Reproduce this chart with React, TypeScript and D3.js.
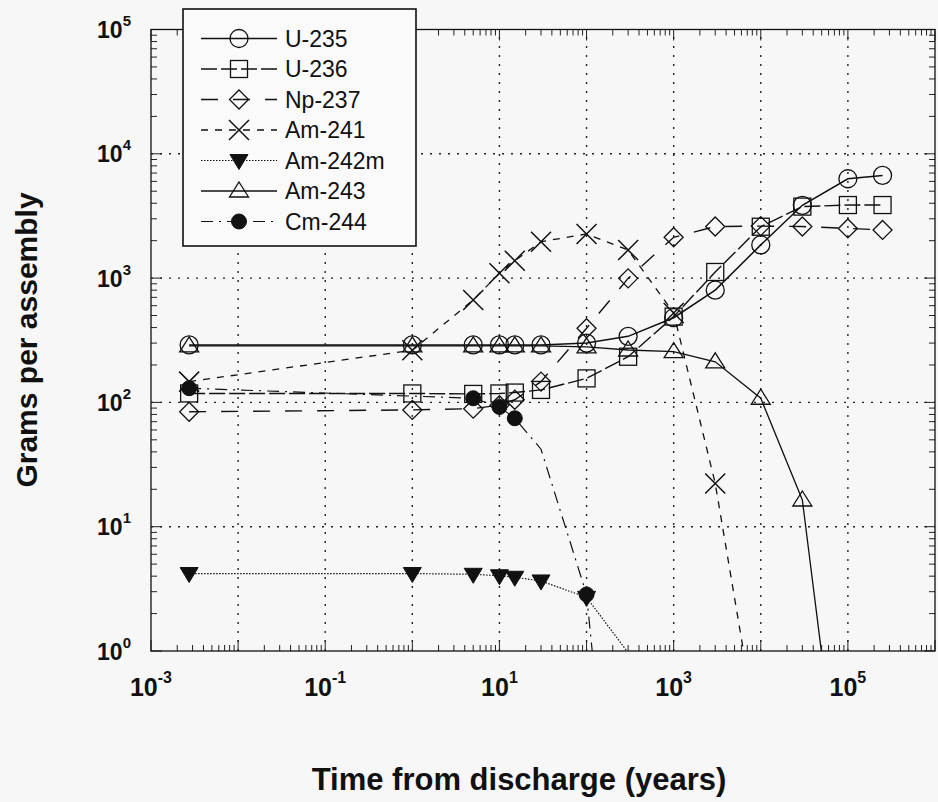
import React from 'react';
import * as d3 from 'd3';

// ---- Data (years after discharge, grams per assembly) ----
const times = [0.00274, 1, 5, 10, 15, 30, 100, 300, 1000, 3000, 10000, 30000, 100000, 250000];
const u235 = [290, 290, 290, 290, 290, 290, 300, 340, 480, 800, 1850, 3850, 6300, 6700];
const u236 = [118, 118, 117, 118, 120, 126, 156, 233, 490, 1120, 2590, 3760, 3870, 3870];
const np237 = [84, 87, 89, 95, 105, 147, 395, 995, 2130, 2600, 2620, 2600, 2510, 2440];
const am241Times = [0.00274, 1, 5, 10, 15, 30, 100, 300, 1000, 3000, 10000];
const am241 = [147, 263, 667, 1094, 1380, 1960, 2265, 1680, 524, 22.3, 0.15];
const am242mTimes = [0.00274, 1, 5, 10, 15, 30, 100, 300];
const am242m = [4.2, 4.2, 4.14, 4.03, 3.92, 3.66, 2.7, 0.97];
const am243Times = [0.00274, 1, 5, 10, 15, 30, 100, 300, 1000, 3000, 10000, 30000, 100000];
const am243 = [285, 285, 285, 285, 285, 285, 280, 264, 256, 212, 108, 16.4, 0.02];
const cm244Times = [0.00274, 5, 10, 15, 30, 100, 300];
const cm244 = [130, 108, 92, 74.5, 42, 2.85, 0.0013];
const cm244HiddenMarkers = [30];

const xTickExps = [-3, -1, 1, 3, 5];
const yTickExps = [0, 1, 2, 3, 4, 5];
const xTitle = 'Time from discharge (years)';
const yTitle = 'Grams per assembly';

type MarkerKind = 'circle' | 'square' | 'diamond' | 'x' | 'tridown' | 'triup' | 'dot';

interface Series {
  name: string;
  t: number[];
  v: number[];
  marker: MarkerKind;
  dash: string;
  width: number;
  hidden?: number[];
}

const series: Series[] = [
  { name: 'U-235', t: times, v: u235, marker: 'circle', dash: 'none', width: 1.5 },
  { name: 'U-236', t: times, v: u236, marker: 'square', dash: '16,4', width: 1.4 },
  { name: 'Np-237', t: times, v: np237, marker: 'diamond', dash: '17,15', width: 1.4 },
  { name: 'Am-241', t: am241Times, v: am241, marker: 'x', dash: '7,7', width: 1.3 },
  { name: 'Am-242m', t: am242mTimes, v: am242m, marker: 'tridown', dash: '1.5,1.5', width: 1.2 },
  { name: 'Am-243', t: am243Times, v: am243, marker: 'triup', dash: 'none', width: 1.3 },
  { name: 'Cm-244', t: cm244Times, v: cm244, marker: 'dot', dash: '12,6,2,6', width: 1.2, hidden: cm244HiddenMarkers },
];

const W = 938;
const H = 802;
const L = 151;
const R = 935;
const T = 29.5;
const B = 651;

const FONT = "'Liberation Sans', Arial, Helvetica, sans-serif";

function Marker({ kind, x, y }: { kind: MarkerKind; x: number; y: number }) {
  const s = { stroke: '#111', strokeWidth: 1.3, fill: 'none' } as const;
  switch (kind) {
    case 'circle':
      return <circle cx={x} cy={y} r={9} {...s} />;
    case 'square':
      return <rect x={x - 8.5} y={y - 8.5} width={17} height={17} {...s} />;
    case 'diamond':
      return <path d={`M${x},${y - 9.5}L${x + 9.5},${y}L${x},${y + 9.5}L${x - 9.5},${y}Z`} {...s} />;
    case 'x':
      return <path d={`M${x - 10},${y - 10}L${x + 10},${y + 10}M${x - 10},${y + 10}L${x + 10},${y - 10}`} {...s} strokeWidth={1.5} />;
    case 'tridown':
      return <path d={`M${x - 9},${y - 6}L${x + 9},${y - 6}L${x},${y + 9}Z`} fill="#111" stroke="#111" strokeWidth={1} />;
    case 'triup':
      return <path d={`M${x},${y - 9}L${x + 9.5},${y + 6}L${x - 9.5},${y + 6}Z`} {...s} />;
    case 'dot':
      return <circle cx={x} cy={y} r={7.5} fill="#111" stroke="#111" strokeWidth={1} />;
  }
  return null;
}

export default function App() {
  const x = d3.scaleLog().domain([1e-3, 1e6]).range([L, R]);
  const y = d3.scaleLog().domain([1, 1e5]).range([B, T]);

  const line = d3
    .line<[number, number]>()
    .x((d) => x(d[0]))
    .y((d) => y(d[1]));

  const majorX = d3.range(-3, 7).map((e) => Math.pow(10, e));
  const majorY = d3.range(0, 6).map((e) => Math.pow(10, e));
  const minorX: number[] = [];
  for (let e = -3; e < 6; e++) for (let k = 2; k <= 9; k++) minorX.push(k * Math.pow(10, e));
  const minorY: number[] = [];
  for (let e = 0; e < 5; e++) for (let k = 2; k <= 9; k++) minorY.push(k * Math.pow(10, e));

  const legendX0 = 201;
  const legendX1 = 277;
  const legendMX = 239;
  const legendTX = 285;
  const legendY0 = 38.5;
  const legendDY = 30.5;

  return (
    <svg
      width={W}
      height={H}
      style={{ position: 'absolute', left: 0, top: 0, display: 'block', background: '#f7f7f7' }}
      fontFamily={FONT}
    >
      <defs>
        <clipPath id="plotClip">
          <rect x={L} y={T} width={R - L} height={B - T} />
        </clipPath>
      </defs>
      <rect x={0} y={0} width={W} height={H} fill="#f7f7f7" />

      {/* grid */}
      <g stroke="#222" strokeWidth={1.4} strokeDasharray="2,7">
        {majorX.slice(1, -1).map((v) => (
          <line key={'gx' + v} x1={x(v)} x2={x(v)} y1={B} y2={T} />
        ))}
        {majorY.slice(1, -1).map((v) => (
          <line key={'gy' + v} x1={L} x2={R} y1={y(v)} y2={y(v)} />
        ))}
      </g>

      {/* ticks */}
      <g stroke="#222" strokeWidth={1}>
        {majorX.map((v) => (
          <g key={'tx' + v}>
            <line x1={x(v)} x2={x(v)} y1={B} y2={B - 11} />
            <line x1={x(v)} x2={x(v)} y1={T} y2={T + 11} />
          </g>
        ))}
        {minorX.map((v) => (
          <g key={'mx' + v}>
            <line x1={x(v)} x2={x(v)} y1={B} y2={B - 6} />
            <line x1={x(v)} x2={x(v)} y1={T} y2={T + 6} />
          </g>
        ))}
        {majorY.map((v) => (
          <g key={'ty' + v}>
            <line x1={L} x2={L + 11} y1={y(v)} y2={y(v)} />
            <line x1={R} x2={R - 11} y1={y(v)} y2={y(v)} />
          </g>
        ))}
        {minorY.map((v) => (
          <g key={'my' + v}>
            <line x1={L} x2={L + 6} y1={y(v)} y2={y(v)} />
            <line x1={R} x2={R - 6} y1={y(v)} y2={y(v)} />
          </g>
        ))}
      </g>

      {/* frame */}
      <rect x={L} y={T} width={R - L} height={B - T} fill="none" stroke="#111" strokeWidth={1.3} />

      {/* series */}
      <g clipPath="url(#plotClip)">
        {series.map((s) => (
          <path
            key={'l' + s.name}
            d={line(s.t.map((t, i) => [t, s.v[i]] as [number, number])) || ''}
            fill="none"
            stroke="#111"
            strokeWidth={s.width}
            strokeDasharray={s.dash}
          />
        ))}
        {series.map((s) =>
          s.t.map((t, i) => {
            const v = s.v[i];
            if (v < 1 || v > 1e5) return null;
            if (s.hidden && s.hidden.includes(t)) return null;
            return <Marker key={s.name + i} kind={s.marker} x={x(t)} y={y(v)} />;
          })
        )}
      </g>

      {/* x tick labels */}
      {xTickExps.map((e) => (
        <text key={'xl' + e} x={x(Math.pow(10, e))} y={696} textAnchor="middle" fontWeight="bold" fontSize={25} fill="#111">
          <tspan>10</tspan>
          <tspan fontSize={16} dy={-13}>{String(e)}</tspan>
        </text>
      ))}

      {/* y tick labels */}
      {yTickExps.map((e) => (
        <text key={'yl' + e} x={131} y={y(Math.pow(10, e)) + 8.5} textAnchor="end" fontWeight="bold" fontSize={23} fill="#111">
          <tspan>10</tspan>
          <tspan fontSize={15} dy={-12}>{String(e)}</tspan>
        </text>
      ))}

      {/* axis titles */}
      <text x={519} y={790} textAnchor="middle" fontWeight="bold" fontSize={31} fill="#111">
        {xTitle}
      </text>
      <text
        transform={`translate(37,340) rotate(-90)`}
        textAnchor="middle"
        fontWeight="bold"
        fontSize={30}
        fill="#111"
      >
        {yTitle}
      </text>

      {/* legend */}
      <rect x={183} y={9} width={233} height={237} fill="#fafafa" stroke="#111" strokeWidth={1.6} />
      {series.map((s, i) => {
        const ly = legendY0 + i * legendDY;
        return (
          <g key={'lg' + s.name}>
            <line x1={legendX0} x2={legendX1} y1={ly} y2={ly} stroke="#111" strokeWidth={s.width} strokeDasharray={s.dash} />
            <Marker kind={s.marker} x={legendMX} y={ly} />
            <text x={legendTX} y={ly + 8} fontSize={23} fill="#111">
              {s.name}
            </text>
          </g>
        );
      })}
    </svg>
  );
}
